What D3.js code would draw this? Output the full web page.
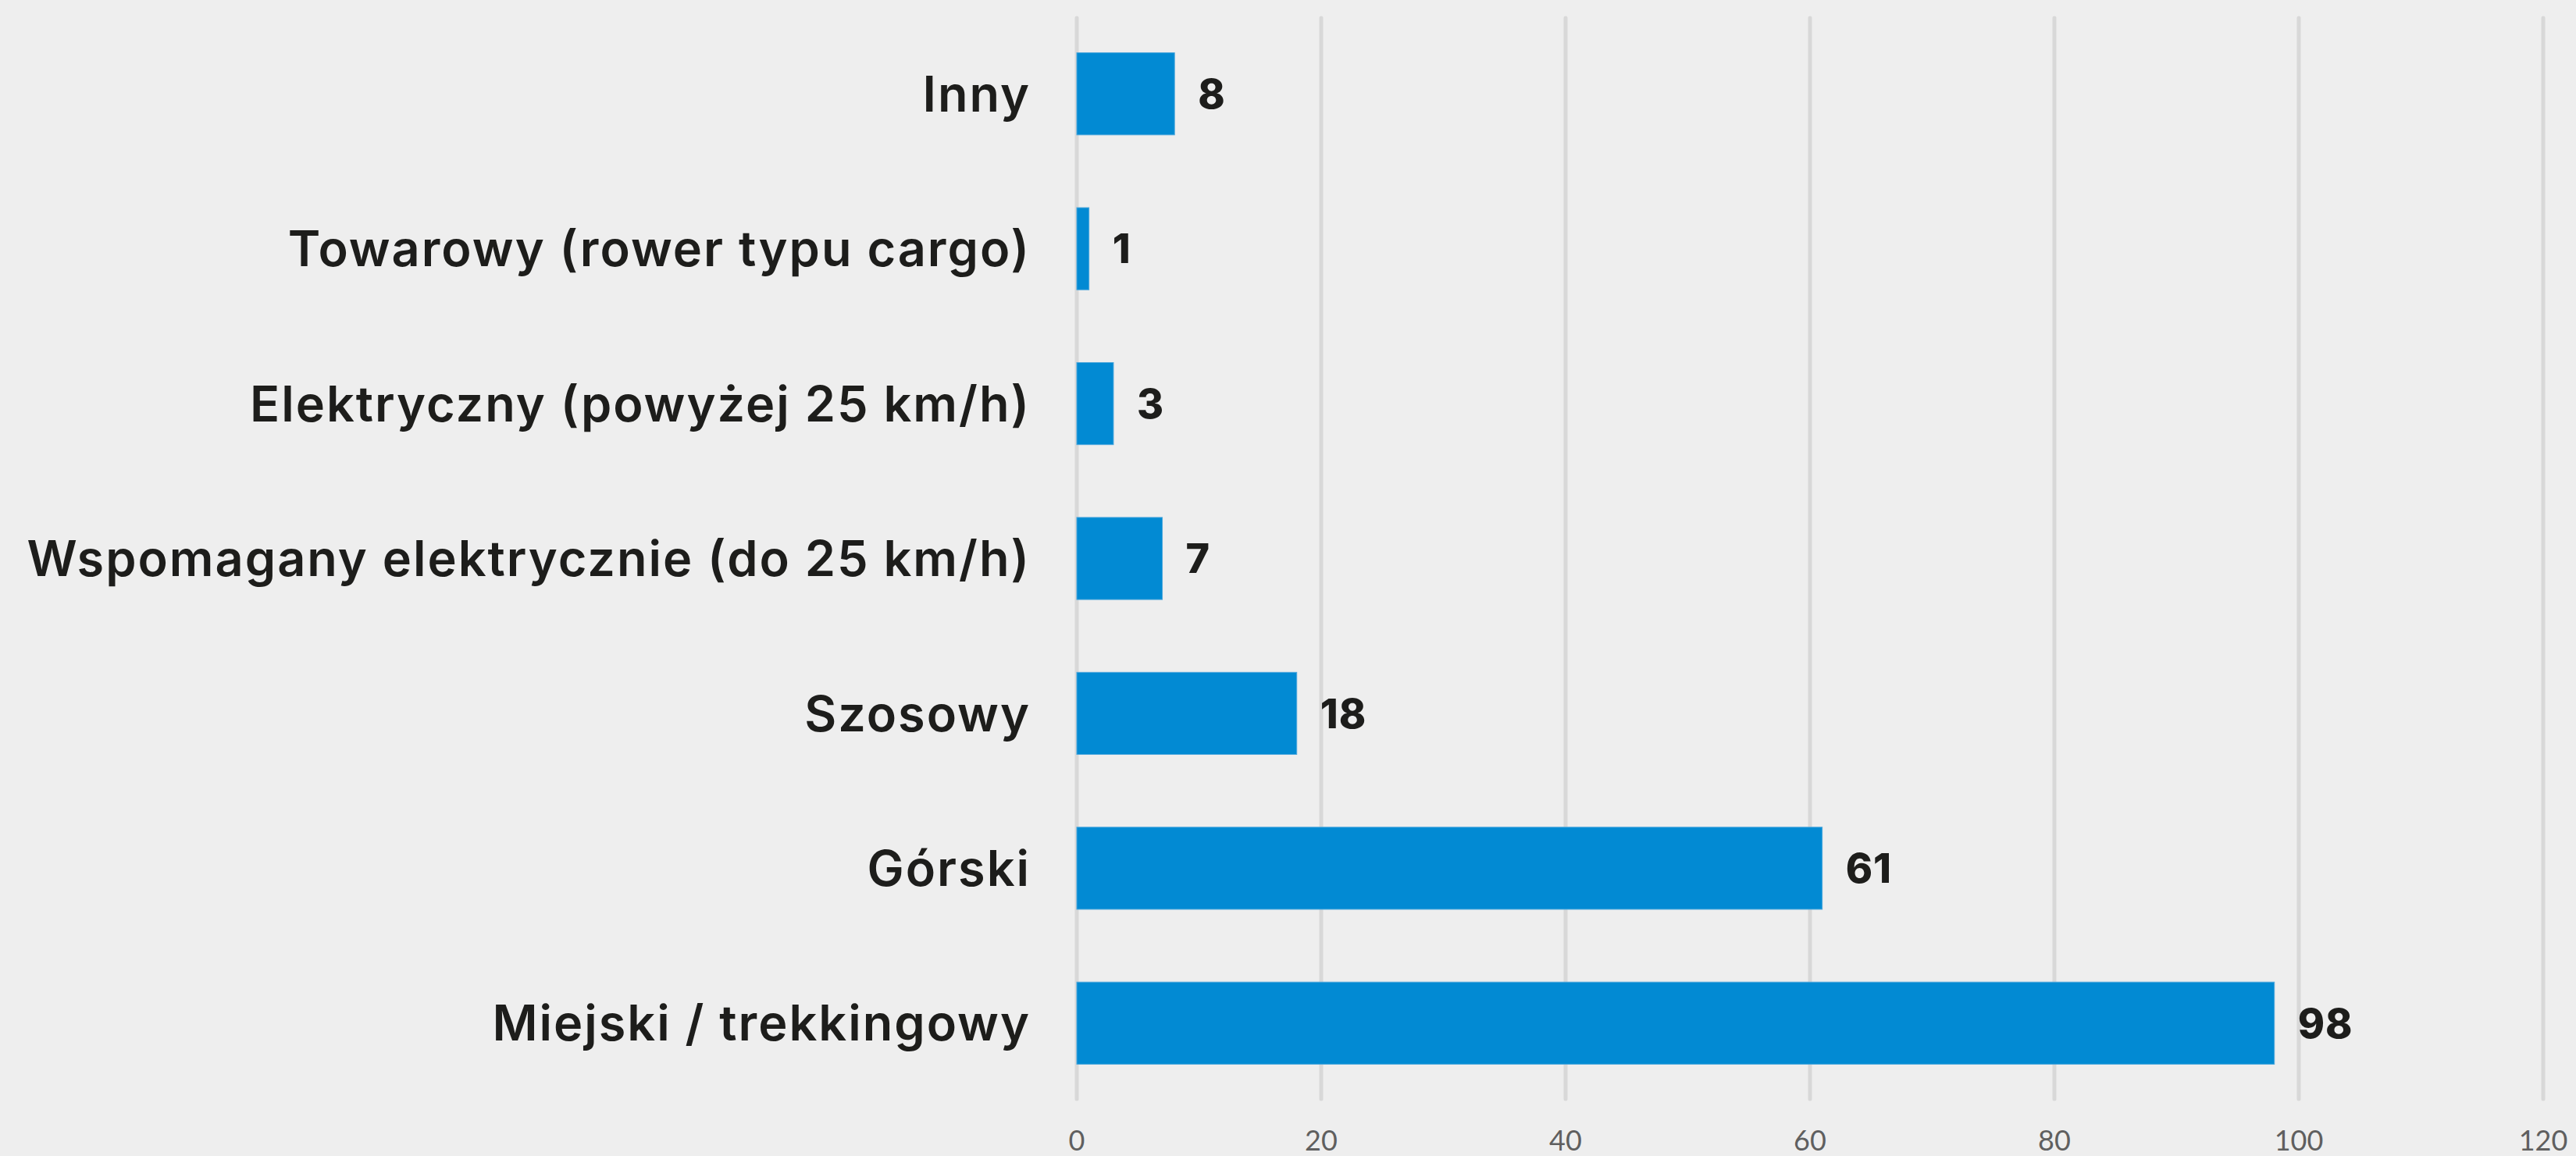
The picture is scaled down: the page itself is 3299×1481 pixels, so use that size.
<!DOCTYPE html>
<html>
<head>
<meta charset="utf-8">
<script src="https://cdn.jsdelivr.net/npm/d3@7"></script>
<style>
  html, body { margin: 0; padding: 0; background: #eeeeee; }
</style>
</head>
<body>
<div id="chart"></div>
<script>
var categories = [
    "Inny",
    "Towarowy (rower typu cargo)",
    "Elektryczny (powyżej 25 km/h)",
    "Wspomagany elektrycznie (do 25 km/h)",
    "Szosowy",
    "Górski",
    "Miejski / trekkingowy"
];
var values = [8, 1, 3, 7, 18, 61, 98];
var ticks = [0, 20, 40, 60, 80, 100, 120];

var width = 3299;
var height = 1481;

var svg = d3.select('#chart')
    .append('svg')
    .attr('width', width)
    .attr('height', height)
    .style('display', 'block')
    .style('background', '#eeeeee');

var x = d3.scaleLinear()
    .domain([0, 120])
    .range([1379, 3257]);

var y = d3.scaleBand()
    .domain(categories)
    .range([21, 1410])
    .paddingInner(0.47)
    .paddingOuter(0.235);

// gridlines
svg.append('g')
    .selectAll('line')
    .data(ticks)
    .enter().append('line')
    .attr('x1', function (d) { return x(d); })
    .attr('x2', function (d) { return x(d); })
    .attr('y1', 23)
    .attr('y2', 1408)
    .style('stroke', '#d8d8d8')
    .style('stroke-width', 5)
    .style('stroke-linecap', 'round');

// tick labels
svg.append('g')
    .selectAll('text')
    .data(ticks)
    .enter().append('text')
    .attr('x', function (d) { return x(d); })
    .attr('y', 1461)
    .attr('dy', '0.35em')
    .attr('text-anchor', 'middle')
    .style('font-family', 'Lato, "Open Sans", sans-serif')
    .style('font-size', '36px')
    .style('fill', '#5f5f5f')
    .text(function (d) { return d; });

// bars
svg.append('g')
    .selectAll('rect')
    .data(values)
    .enter().append('rect')
    .attr('x', x(0))
    .attr('y', function (d, i) { return y(categories[i]); })
    .attr('width', function (d) { return x(d) - x(0); })
    .attr('height', y.bandwidth())
    .style('fill', '#028ad3')
    .style('stroke', '#4aa6dc')
    .style('stroke-width', 1);

// value labels
svg.append('g')
    .selectAll('text')
    .data(values)
    .enter().append('text')
    .attr('x', function (d) { return x(d) + 30; })
    .attr('y', function (d, i) { return y(categories[i]) + y.bandwidth() / 2; })
    .attr('dy', '0.36em')
    .style('font-family', 'Inter, "Noto Sans", sans-serif')
    .style('font-weight', 800)
    .style('font-size', '52px')
    .style('letter-spacing', '1px')
    .style('fill', '#1d1d1b')
    .text(function (d) { return d; });

// category labels
svg.append('g')
    .selectAll('text')
    .data(categories)
    .enter().append('text')
    .attr('x', 1320)
    .attr('y', function (d) { return y(d) + y.bandwidth() / 2; })
    .attr('dy', '0.36em')
    .attr('text-anchor', 'end')
    .style('font-family', 'Inter, "Noto Sans", sans-serif')
    .style('font-weight', 600)
    .style('font-size', '63px')
    .style('letter-spacing', '2px')
    .style('fill', '#1d1d1b')
    .text(function (d) { return d; });
</script>
</body>
</html>
